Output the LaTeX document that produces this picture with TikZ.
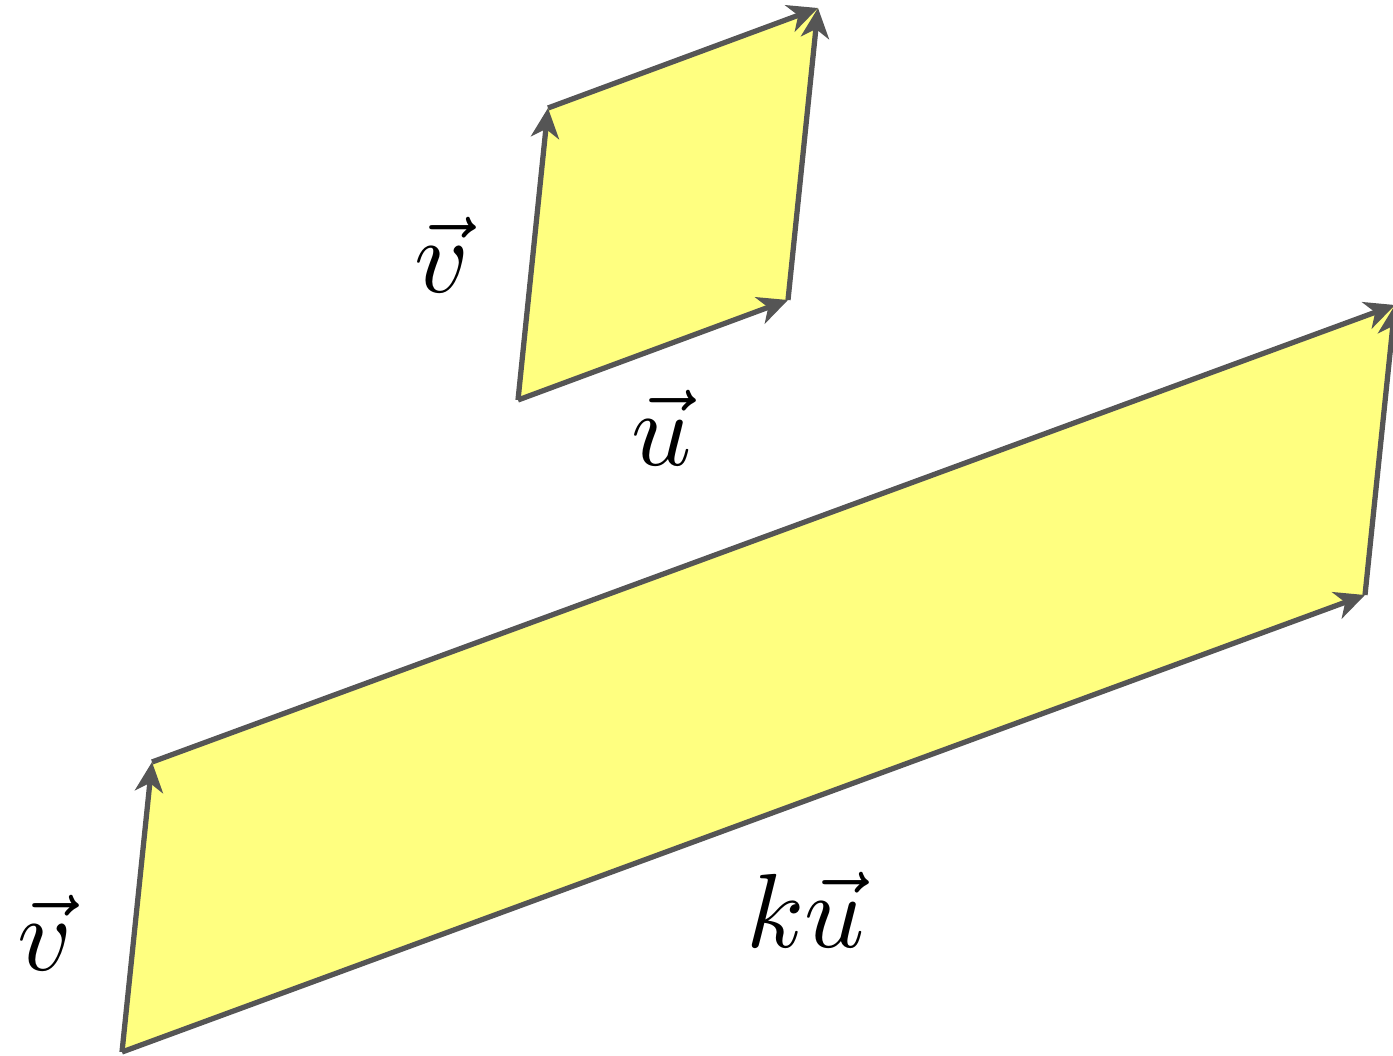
\documentclass[tikz,border=0pt]{standalone}
\usetikzlibrary{arrows.meta}
\begin{document}
\begin{tikzpicture}[x=0.02cm,y=-0.02cm,
  face/.style={fill=yellowfill,draw=none},
  vecline/.style={draw=edgegray,line width=3pt,-{Stealth[length=17pt,width=16pt,inset=5pt]}},
  lbl/.style={inner sep=0pt,scale=6,transform shape}]
\definecolor{yellowfill}{RGB}{255,255,128}
\definecolor{edgegray}{RGB}{85,85,85}
\useasboundingbox (0,0) rectangle (1393,1055);
\clip (0,0) rectangle (1393,1055);
% small parallelogram
\coordinate (o1) at (518,400);
\coordinate (u1) at (788,300);
\coordinate (v1) at (548,108);
\coordinate (s1) at (818,8);
\fill[face] (o1) -- (u1) -- (s1) -- (v1) -- cycle;
\draw[vecline] (o1) -- (u1);
\draw[vecline] (o1) -- (v1);
\draw[vecline] (v1) -- (s1);
\draw[vecline] (u1) -- (s1);
% large parallelogram
\coordinate (o2) at (122,1052);
\coordinate (u2) at (1365,595);
\coordinate (v2) at (152,762);
\coordinate (s2) at (1395,305);
\fill[face] (o2) -- (u2) -- (s2) -- (v2) -- cycle;
\draw[vecline] (o2) -- (u2);
\draw[vecline] (o2) -- (v2);
\draw[vecline] (v2) -- (s2);
\draw[vecline] (u2) -- (s2);
% labels
\node[lbl] (lv1) at (442,255) {$\vec{v}$};
\node[lbl] (lu1) at (662,428) {$\vec{u}$};
\node[lbl] (lv2) at (45,933) {$\vec{v}$};
\node[lbl] (lku) at (806,910) {$k\vec{u}$};
\end{tikzpicture}
\end{document}
